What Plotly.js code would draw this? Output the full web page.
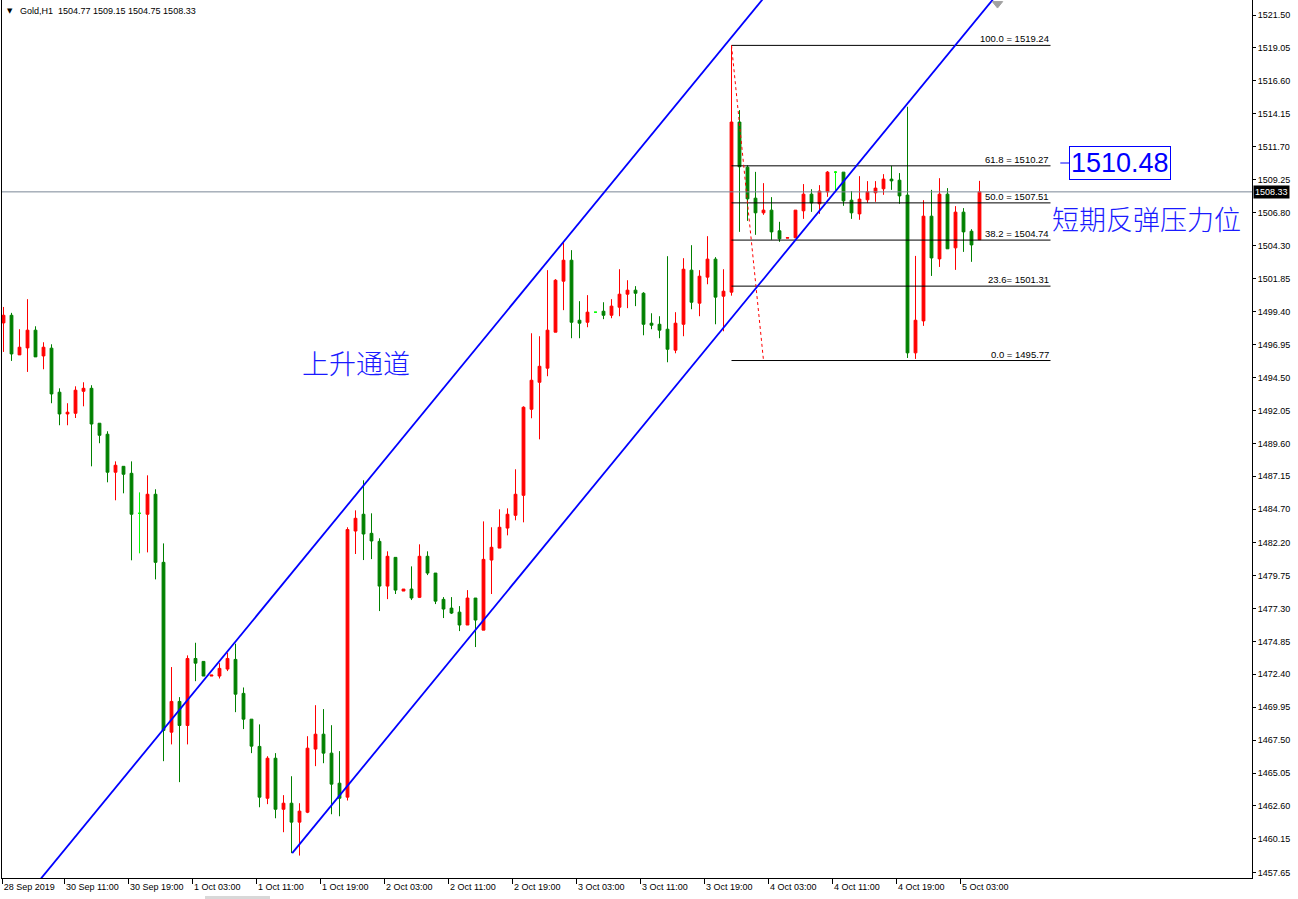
<!DOCTYPE html>
<html>
<head>
<meta charset="utf-8">
<script src="https://cdn.plot.ly/plotly-3.0.1.min.js"></script>
<style>html,body{margin:0;padding:0;background:#fff;}#chart{width:1298px;height:899px;}</style>
</head>
<body>
<div id="chart"></div>
<script>
// ---- Data (Gold, H1) ----
const openP = [1498.57,1499.14,1496.19,1496.71,1498.03,1496.11,1496.69,1493.41,1491.79,1491.84,1493.48,1493.70,1491.10,1490.28,1487.45,1487.89,1487.37,1484.39,1484.32,1485.81,
1480.74,1468.09,1470.38,1468.59,1473.58,1473.36,1472.27,1472.27,1472.79,1473.51,1470.98,1469.06,1467.03,1463.17,1466.15,1462.35,1462.80,1461.39,1462.13,1466.83,
1467.94,1466.53,1464.29,1463.25,1483.07,1484.32,1482.90,1482.30,1478.97,1481.11,1478.60,1478.75,1478.13,1481.19,1479.94,1477.98,1477.33,1477.03,1476.07,1478.08,
1475.69,1480.91,1481.80,1483.29,1484.24,1485.73,1492.14,1494.15,1495.20,1497.88,1501.68,1503.24,1498.77,1498.62,1499.37,1499.44,1499.14,1499.74,1500.71,1501.01,
1500.78,1498.55,1498.47,1498.10,1496.54,1498.47,1502.50,1500.04,1501.98,1503.32,1500.56,1500.86,1513.53,1510.17,1507.86,1506.77,1506.97,1505.43,1504.89,1504.91,
1506.92,1508.16,1507.44,1508.33,1509.80,1509.80,1507.71,1506.69,1507.74,1508.26,1508.56,1509.28,1509.20,1508.09,1496.34,1498.72,1506.52,1503.34,1508.16,1504.16,
1506.82,1505.40,1504.77];
const highP = [1499.76,1499.32,1498.10,1500.34,1498.32,1497.13,1496.98,1493.70,1492.59,1493.85,1494.15,1493.93,1491.10,1490.50,1488.26,1487.89,1488.26,1485.95,1487.22,1486.18,
1482.15,1472.94,1470.70,1473.81,1474.75,1473.36,1472.34,1473.23,1474.01,1474.68,1471.42,1469.06,1468.67,1466.30,1466.53,1463.40,1464.81,1462.80,1467.79,1470.10,
1469.81,1468.61,1466.68,1483.35,1484.61,1486.85,1484.39,1482.53,1481.56,1481.11,1478.75,1480.44,1482.08,1481.56,1479.94,1478.15,1478.15,1477.48,1478.67,1478.08,
1483.79,1483.35,1484.69,1484.76,1487.67,1492.36,1497.80,1497.58,1502.50,1501.83,1504.58,1503.99,1500.19,1500.64,1499.37,1500.11,1500.34,1502.57,1501.75,1501.31,
1500.86,1499.29,1499.07,1503.54,1499.37,1503.39,1504.36,1502.50,1505.03,1503.47,1502.57,1519.24,1514.42,1510.30,1509.82,1508.98,1507.94,1506.10,1504.91,1506.97,
1508.91,1508.53,1508.83,1509.88,1509.88,1509.80,1508.39,1509.50,1509.13,1509.13,1509.65,1510.27,1509.73,1514.67,1503.56,1507.71,1508.48,1509.35,1508.61,1507.27,
1507.12,1505.55,1509.15];
const lowP = [1496.41,1495.74,1496.19,1494.92,1496.04,1495.12,1492.59,1490.95,1490.95,1491.49,1492.36,1487.89,1489.61,1486.70,1485.36,1485.88,1480.89,1481.41,1481.48,1479.47,
1465.93,1467.18,1464.37,1467.18,1471.89,1472.27,1472.27,1472.09,1472.64,1469.58,1468.32,1466.53,1462.50,1462.73,1461.68,1460.64,1459.08,1458.90,1462.06,1465.56,
1465.78,1461.98,1461.83,1463.00,1481.36,1480.91,1480.98,1477.11,1478.00,1478.38,1478.60,1477.93,1478.08,1479.79,1477.63,1476.59,1476.89,1475.62,1476.07,1474.43,
1475.69,1478.38,1481.80,1482.75,1483.87,1483.72,1491.47,1489.90,1494.60,1497.88,1499.52,1497.43,1497.43,1498.25,1499.37,1498.85,1498.92,1499.07,1499.67,1499.82,
1497.65,1498.10,1497.43,1495.64,1496.31,1497.58,1499.59,1499.07,1501.45,1498.47,1497.95,1500.60,1505.35,1506.17,1505.13,1506.62,1504.76,1504.61,1504.89,1504.91,
1506.32,1506.84,1506.69,1507.96,1508.46,1507.29,1506.32,1506.25,1507.51,1507.59,1508.11,1508.48,1507.44,1495.96,1495.89,1498.35,1502.07,1502.74,1504.09,1502.52,
1503.86,1503.12,1504.75];
const closeP = [1499.14,1496.26,1496.76,1498.03,1496.04,1496.76,1493.28,1491.79,1491.92,1493.56,1493.70,1491.04,1490.20,1487.45,1487.97,1487.30,1484.32,1484.39,1485.81,1480.74,
1468.22,1470.38,1468.59,1473.58,1473.23,1472.27,1472.34,1472.84,1473.58,1470.92,1469.06,1467.05,1463.25,1466.15,1462.35,1462.80,1461.39,1462.21,1466.90,1467.94,
1466.53,1464.22,1463.17,1483.18,1484.02,1482.85,1482.33,1478.97,1481.19,1478.67,1478.75,1478.08,1481.19,1479.94,1477.85,1477.26,1476.96,1476.07,1478.08,1476.44,
1480.96,1481.86,1483.35,1484.32,1485.81,1492.29,1494.30,1495.34,1498.03,1501.75,1503.24,1498.62,1498.55,1499.37,1499.37,1499.14,1499.82,1500.71,1501.01,1500.78,
1498.47,1498.40,1498.03,1496.61,1498.55,1502.57,1500.11,1502.05,1503.32,1500.49,1500.93,1513.53,1510.20,1507.81,1506.77,1506.97,1505.35,1504.83,1504.91,1506.97,
1508.16,1507.51,1508.39,1509.80,1509.80,1507.66,1506.77,1507.79,1508.33,1508.61,1509.28,1509.15,1508.03,1496.34,1498.77,1506.52,1503.41,1508.16,1504.09,1506.82,
1505.35,1504.38,1508.33];
// bars drawn with the "line" (doji) colour
const dojiBars = [17, 74, 104];

// time axis labels (every 8 bars)
const xTickBars = [0, 8, 16, 24, 32, 40, 48, 56, 64, 72, 80, 88, 96, 104, 112, 120];
const xTickLabels = ["28 Sep 2019","30 Sep 11:00","30 Sep 19:00","1 Oct 03:00","1 Oct 11:00","1 Oct 19:00","2 Oct 03:00","2 Oct 11:00","2 Oct 19:00","3 Oct 03:00","3 Oct 11:00","3 Oct 19:00","4 Oct 03:00","4 Oct 11:00","4 Oct 19:00","5 Oct 03:00"];

// price axis labels
const yTickVals = [1521.50,1519.05,1516.60,1514.15,1511.70,1509.25,1506.80,1504.30,1501.85,1499.40,1496.95,1494.50,1492.05,1489.60,1487.15,1484.70,1482.20,1479.75,1477.30,1474.85,1472.40,1469.95,1467.50,1465.05,1462.60,1460.15,1457.65];

// Fibonacci retracement
const fibLevels = [100.0, 61.8, 50.0, 38.2, 23.6, 0.0];
const fibPrices = [1519.24, 1510.27, 1507.51, 1504.74, 1501.31, 1495.77];
const fibLabels = ["100.0 = 1519.24","61.8 = 1510.27","50.0 = 1507.51","38.2 = 1504.74","23.6= 1501.31","0.0 = 1495.77"];
const fibStartBar = 91, fibEndBar = 130.875, fibLowBar = 95;

// ascending channel anchors [bar, price]
const channelUpper = [[-5, 1450.16], [110, 1533.64]];
const channelLower = [[36.09, 1459.08], [130, 1527.25]];

const lastPrice = 1508.33;
const resistPrice = 1510.48;
const header = ["Gold,H1", 1504.77, 1509.15, 1504.75, 1508.33];

// ---- build traces ----
const idx = openP.map((_, i) => i);
const normalIdx = idx.filter(i => !dojiBars.includes(i));
const pick = (arr, list) => list.map(i => arr[i]);

const mainTrace = {
  type: 'candlestick',
  x: normalIdx, open: pick(openP, normalIdx), high: pick(highP, normalIdx),
  low: pick(lowP, normalIdx), close: pick(closeP, normalIdx),
  increasing: {line: {color: '#ff0000', width: 1}, fillcolor: '#ff0000'},
  decreasing: {line: {color: '#008000', width: 1}, fillcolor: '#008000'},
  whiskerwidth: 0, hoverinfo: 'skip'
};
const dojiTrace = {
  type: 'candlestick',
  x: dojiBars, open: pick(openP, dojiBars), high: pick(highP, dojiBars),
  low: pick(lowP, dojiBars), close: pick(closeP, dojiBars),
  increasing: {line: {color: '#00ff00', width: 1}, fillcolor: '#00ff00'},
  decreasing: {line: {color: '#00ff00', width: 1}, fillcolor: '#00ff00'},
  whiskerwidth: 0, hoverinfo: 'skip'
};

const shapes = [];
// current price line
shapes.push({type: 'line', xref: 'paper', x0: 0, x1: 1, yref: 'y', y0: lastPrice, y1: lastPrice, line: {color: '#7a8797', width: 1}});
// fib lines
fibPrices.forEach(p => shapes.push({type: 'line', xref: 'x', yref: 'y', x0: fibStartBar, x1: fibEndBar, y0: p, y1: p, line: {color: '#000000', width: 1}}));
// fib trend (dotted)
shapes.push({type: 'line', xref: 'x', yref: 'y', x0: fibStartBar, y0: fibPrices[0], x1: fibLowBar, y1: fibPrices[5], line: {color: '#ff0000', width: 1, dash: 'dot'}});
// channel
[channelUpper, channelLower].forEach(c => shapes.push({type: 'line', xref: 'x', yref: 'y', x0: c[0][0], y0: c[0][1], x1: c[1][0], y1: c[1][1], line: {color: '#0000ff', width: 1.8}}));
// price label connector
shapes.push({type: 'line', xref: 'x', yref: 'y', x0: 132.1, x1: 133.4, y0: resistPrice, y1: resistPrice, line: {color: '#0000ff', width: 1}});
// chart shift marker
shapes.push({type: 'path', xref: 'x', yref: 'y', path: 'M 123.6 1522.50 L 124.9 1522.50 L 124.25 1522.02 Z', fillcolor: '#a0a0a0', line: {color: '#a0a0a0', width: 1}});
// bottom scroll strip
shapes.push({type: 'rect', xref: 'paper', yref: 'paper', x0: (205-2)/1250, x1: (270-2)/1250, y0: -21/878, y1: -18/878, fillcolor: '#d8d8d8', line: {width: 0}});

const annotations = [];
fibLabels.forEach((t, k) => annotations.push({
  xref: 'x', yref: 'y', x: fibEndBar, y: fibPrices[k], text: t, showarrow: false,
  xanchor: 'right', yanchor: 'bottom', yshift: -1,
  font: {family: 'Liberation Sans, Arial, sans-serif', size: 9.5, color: '#000000'}
}));
annotations.push({xref: 'x', yref: 'y', x: 44, y: 1495.64, text: '上升通道', showarrow: false,
  font: {family: 'Noto Sans CJK SC, sans-serif', size: 27, color: '#1a1aff', weight: 300}});
annotations.push({xref: 'x', yref: 'y', x: 142.9, y: 1506.37, text: '短期反弹压力位', showarrow: false,
  font: {family: 'Noto Sans CJK SC, sans-serif', size: 27, color: '#1a1aff', weight: 300}});
annotations.push({xref: 'x', yref: 'y', x: 139.56, y: resistPrice, text: resistPrice.toFixed(2), showarrow: false,
  bordercolor: '#0000ff', borderwidth: 1, borderpad: 1, bgcolor: '#ffffff',
  font: {family: 'Liberation Sans, Arial, sans-serif', size: 27, color: '#0000ff'}});
annotations.push({xref: 'paper', yref: 'y', x: 1, y: lastPrice, xanchor: 'left', xshift: 1, text: lastPrice.toFixed(2), showarrow: false,
  bgcolor: '#000000', borderpad: 1, font: {family: 'Liberation Sans, Arial, sans-serif', size: 9, color: '#ffffff'}});
annotations.push({xref: 'paper', yref: 'paper', x: 3/1250, y: 1 - 11/878, xanchor: 'left', yanchor: 'middle', text: '▼', showarrow: false,
  font: {family: 'DejaVu Sans, sans-serif', size: 7, color: '#000000'}});
annotations.push({xref: 'paper', yref: 'paper', x: 16/1250, y: 1 - 11/878, xanchor: 'left', yanchor: 'middle',
  text: header[0] + '&nbsp;&nbsp;' + header.slice(1).map(v => v.toFixed(2)).join(' '), showarrow: false,
  font: {family: 'Liberation Sans, Arial, sans-serif', size: 9, color: '#000000'}});

const xTickVals = xTickBars.map(b => b === 0 ? -0.1 : b - 0.32);

const layout = {
  width: 1298, height: 899,
  margin: {l: 2, r: 46, t: 0, b: 21, pad: 0},
  paper_bgcolor: '#ffffff', plot_bgcolor: '#ffffff',
  showlegend: false, boxgap: 0.5, boxmode: 'overlay', hovermode: false,
  xaxis: {
    range: [-0.1875, 156.0625], rangeslider: {visible: false}, showgrid: false, zeroline: false,
    showline: true, linecolor: '#000000', linewidth: 1,
    ticks: 'outside', ticklen: 5, tickcolor: '#000000', tickwidth: 1,
    tickmode: 'array', tickvals: xTickVals, ticktext: xTickLabels, ticklabelposition: 'outside right',
    tickfont: {family: 'Liberation Sans, Arial, sans-serif', size: 9, color: '#000000'}, fixedrange: true
  },
  yaxis: {
    side: 'right', range: [1457.23, 1522.62], showgrid: false, zeroline: false,
    showline: true, mirror: true, linecolor: '#000000', linewidth: 1,
    ticks: 'outside', ticklen: 3, tickcolor: '#000000', tickwidth: 1,
    tickmode: 'array', tickvals: yTickVals, ticktext: yTickVals.map(v => v.toFixed(2)),
    tickfont: {family: 'Liberation Sans, Arial, sans-serif', size: 9, color: '#000000'}, fixedrange: true
  },
  shapes: shapes,
  annotations: annotations
};

Plotly.newPlot('chart', [mainTrace, dojiTrace], layout, {displayModeBar: false, staticPlot: true});
</script>
</body>
</html>
